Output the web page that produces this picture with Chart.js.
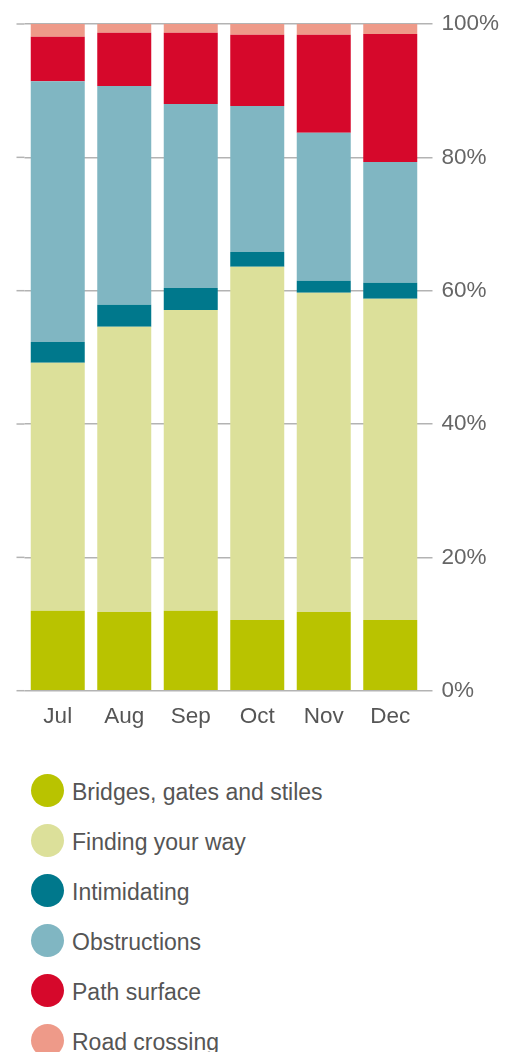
<!DOCTYPE html>
<html>
<head>
<meta charset="utf-8">
<script src="https://cdn.jsdelivr.net/npm/chart.js@4.4.1/dist/chart.umd.min.js"></script>
<style>
  body { margin: 0; background: #fff; font-family: "Liberation Sans", Arial, sans-serif; }
  #wrap { position: relative; width: 506px; height: 740px; }
  #legend { position: absolute; left: 31px; top: 765px; margin: 0; padding: 0; list-style: none; }
  #legend li { display: flex; align-items: center; height: 50px; font-size: 23px; color: #555; }
  #legend li span.txt { position: relative; top: 2px; }
  #legend .dot { width: 33px; height: 33px; border-radius: 50%; margin-right: 8px; }
</style>
</head>
<body>
<div id="wrap"><canvas id="issuesChart" width="506" height="740"></canvas></div>
<ul id="legend"></ul>
<script>
// Share of reported path issues by month (%)
const months = ["Jul", "Aug", "Sep", "Oct", "Nov", "Dec"];
const bridges = [12.0, 11.8, 12.0, 10.6, 11.8, 10.6];
const findingWay = [37.2, 42.8, 45.1, 53.0, 47.9, 48.2];
const intimidating = [3.1, 3.3, 3.3, 2.2, 1.8, 2.4];
const obstructions = [39.1, 32.8, 27.6, 21.9, 22.2, 18.1];
const pathSurface = [6.7, 8.0, 10.7, 10.7, 14.7, 19.2];
const roadCrossing = [1.9, 1.3, 1.3, 1.6, 1.6, 1.5];
const yTickStep = 20;

const gridColor = "#b3b3b3";

function series(label, data, color) {
  return {
    label: label,
    data: data,
    backgroundColor: color,
    borderWidth: 0,
    barPercentage: 0.812,
    categoryPercentage: 1,
  };
}

// short gridline stubs to the left of the first bar
const gridStubs = {
  id: "gridStubs",
  beforeDatasetsDraw(chart) {
    const { ctx, chartArea, scales } = chart;
    const y = scales.y;
    ctx.save();
    ctx.strokeStyle = gridColor;
    ctx.lineWidth = 1.5;
    y.ticks.forEach((t) => {
      const py = y.getPixelForValue(t.value);
      ctx.beginPath();
      ctx.moveTo(chartArea.left - 8, py);
      ctx.lineTo(chartArea.left, py);
      ctx.stroke();
    });
    ctx.restore();
  },
};

const chart = new Chart(document.getElementById("issuesChart"), {
  type: "bar",
  data: {
    labels: months,
    datasets: [
      series("Bridges, gates and stiles", bridges, "#b9c300"),
      series("Finding your way", findingWay, "#dce09a"),
      series("Intimidating", intimidating, "#00788c"),
      series("Obstructions", obstructions, "#80b6c2"),
      series("Path surface", pathSurface, "#d6082b"),
      series("Road crossing", roadCrossing, "#ee9a89"),
    ],
  },
  options: {
    responsive: false,
    animation: false,
    devicePixelRatio: 1,
    layout: { padding: { left: 24.5, top: 24, right: 0, bottom: 0 } },
    plugins: { legend: { display: false }, tooltip: { enabled: false } },
    scales: {
      x: {
        stacked: true,
        grid: { display: false, drawTicks: false },
        border: { display: false },
        ticks: {
          padding: 13,
          color: "#555",
          font: { family: "Liberation Sans", size: 22.5 },
        },
        afterFit(s) { s.height = 49.3; },
      },
      y: {
        stacked: true,
        position: "right",
        min: 0,
        max: 100,
        grid: { color: gridColor, lineWidth: 1.5, tickLength: 9 },
        border: { display: false },
        ticks: {
          stepSize: yTickStep,
          padding: 9,
          color: "#666",
          font: { family: "Liberation Sans", size: 22.5 },
          callback: (v) => v + "%",
        },
        afterFit(s) { s.width = 82.5; },
      },
    },
  },
  plugins: [gridStubs],
});

// legend list built from the datasets
const legend = document.getElementById("legend");
chart.data.datasets.forEach((ds) => {
  const li = document.createElement("li");
  const dot = document.createElement("span");
  dot.className = "dot";
  dot.style.background = ds.backgroundColor;
  const txt = document.createElement("span");
  txt.className = "txt";
  txt.textContent = ds.label;
  li.appendChild(dot);
  li.appendChild(txt);
  legend.appendChild(li);
});
</script>
</body>
</html>
